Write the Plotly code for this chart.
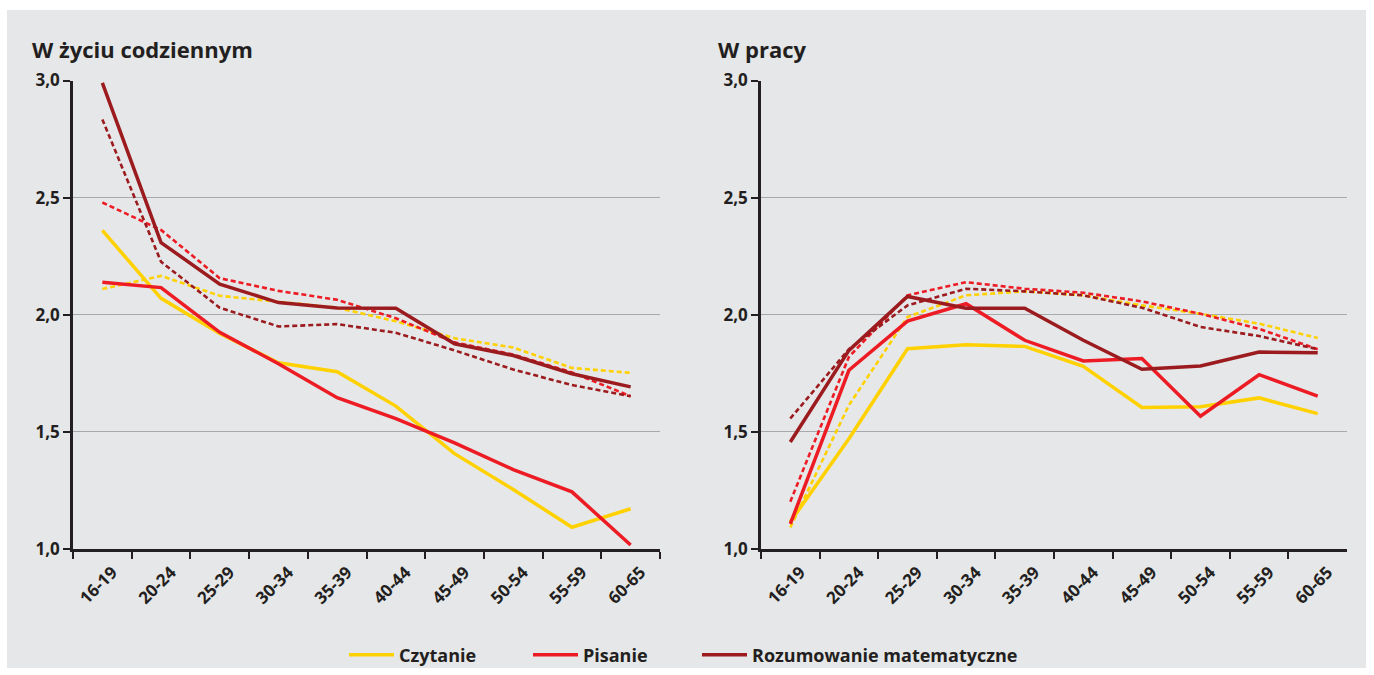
import plotly.graph_objects as go

# Age groups on the category axis
age_groups = ["16-19", "20-24", "25-29", "30-34", "35-39",
              "40-44", "45-49", "50-54", "55-59", "60-65"]

# "W życiu codziennym" panel — observed values (solid) and fitted values (dashed)
daily_reading = [2.36, 2.07, 1.92, 1.795, 1.757, 1.61, 1.407, 1.254, 1.093, 1.172]
daily_writing = [2.139, 2.116, 1.925, 1.791, 1.646, 1.557, 1.453, 1.339, 1.244, 1.017]
daily_math = [2.99, 2.308, 2.131, 2.052, 2.029, 2.028, 1.876, 1.826, 1.748, 1.692]
daily_reading_fit = [2.11, 2.166, 2.081, 2.057, 2.03, 1.972, 1.90, 1.86, 1.773, 1.752]
daily_writing_fit = [2.479, 2.362, 2.156, 2.102, 2.064, 1.985, 1.882, 1.83, 1.754, 1.652]
daily_math_fit = [2.834, 2.226, 2.03, 1.95, 1.96, 1.923, 1.848, 1.766, 1.70, 1.652]

# "W pracy" panel
work_reading = [1.116, 1.471, 1.855, 1.872, 1.865, 1.78, 1.604, 1.607, 1.645, 1.578]
work_writing = [1.107, 1.763, 1.973, 2.047, 1.891, 1.803, 1.813, 1.567, 1.744, 1.653]
work_math = [1.457, 1.848, 2.078, 2.028, 2.028, 1.891, 1.767, 1.781, 1.841, 1.838]
work_reading_fit = [1.092, 1.614, 1.99, 2.083, 2.10, 2.083, 2.04, 2.004, 1.962, 1.901]
work_writing_fit = [1.202, 1.82, 2.083, 2.139, 2.111, 2.094, 2.057, 2.004, 1.94, 1.853]
work_math_fit = [1.557, 1.853, 2.04, 2.111, 2.10, 2.083, 2.03, 1.948, 1.909, 1.853]

series_names = ["Czytanie", "Pisanie", "Rozumowanie matematyczne"]
colors = ["#FFD100", "#ED1C24", "#9B1B1F"]

W, H = 1374, 675
BG = "#E6E7E8"
INK = "#231F20"
FONT = "Open Sans"

fig = go.Figure()

panels = [
    ("x", "y", [daily_reading, daily_writing, daily_math],
     [daily_reading_fit, daily_writing_fit, daily_math_fit]),
    ("x2", "y2", [work_reading, work_writing, work_math],
     [work_reading_fit, work_writing_fit, work_math_fit]),
]
legend_ids = ["legend", "legend2", "legend3"]

for p, (xa, ya, solid, fitted) in enumerate(panels):
    # dashed fitted lines first, so the solid lines sit on top
    for name, vals, col in zip(series_names, fitted, colors):
        fig.add_trace(go.Scatter(
            x=age_groups, y=vals, xaxis=xa, yaxis=ya, mode="lines",
            line=dict(color=col, width=2.6, dash="5px,3px"),
            showlegend=False, hoverinfo="skip", name=name))
    for name, vals, col, lg in zip(series_names, solid, colors, legend_ids):
        fig.add_trace(go.Scatter(
            x=age_groups, y=vals, xaxis=xa, yaxis=ya, mode="lines",
            line=dict(color=col, width=3.5),
            showlegend=(p == 0), legend=lg, name=name))

y_bottom = (H - 549) / H
y_top = (H - 80.5) / H

common_x = dict(
    type="category", range=[-0.5, 9.5], tickson="boundaries",
    ticks="outside", ticklen=7, tickwidth=2, tickcolor=INK,
    showline=True, linecolor=INK, linewidth=2.5, showgrid=False,
    tickangle=-45, zeroline=False, automargin=False,
    ticklabelshift=10, ticklabelstandoff=4,
    tickfont=dict(family=FONT, size=17, color=INK, weight="bold"),
)
common_y = dict(
    range=[1, 3], tickvals=[1.0, 1.5, 2.0, 2.5, 3.0], tickformat=".1f",
    ticks="outside", ticklen=7, tickwidth=2, tickcolor=INK,
    showline=True, linecolor=INK, linewidth=2.5, automargin=False,
    showgrid=True, gridcolor="#A7A9AC", gridwidth=1.2, zeroline=False,
    domain=[y_bottom, y_top],
    tickfont=dict(family=FONT, size=17, color=INK, weight="bold"),
)


def legend_at(px):
    return dict(
        orientation="h", x=px / W, xanchor="left",
        y=(H - 655) / H, yanchor="middle", itemwidth=45,
        bgcolor="rgba(0,0,0,0)", borderwidth=0,
        font=dict(family=FONT, size=18, color=INK, weight="bold"),
    )


fig.update_layout(
    width=W, height=H,
    margin=dict(l=0, r=0, t=0, b=0, autoexpand=False),
    paper_bgcolor="white", plot_bgcolor=BG,
    separators=", ",
    xaxis=dict(common_x, domain=[73 / W, 660 / W], anchor="y"),
    yaxis=dict(common_y, anchor="x"),
    xaxis2=dict(common_x, domain=[761 / W, 1347 / W], anchor="y2"),
    yaxis2=dict(common_y, anchor="x2"),
    showlegend=True,
    legend=legend_at(344),
    legend2=legend_at(528),
    legend3=legend_at(697),
    shapes=[dict(
        type="rect", xref="paper", yref="paper", layer="below",
        x0=7 / W, x1=1366 / W, y0=(H - 668) / H, y1=(H - 10) / H,
        fillcolor=BG, line=dict(width=0),
    )],
    annotations=[
        dict(text="W życiu codziennym", xref="paper", yref="paper",
             x=30 / W, y=(H - 49) / H, xanchor="left", yanchor="middle",
             showarrow=False,
             font=dict(family=FONT, size=22, color=INK, weight="bold")),
        dict(text="W pracy", xref="paper", yref="paper",
             x=716 / W, y=(H - 49) / H, xanchor="left", yanchor="middle",
             showarrow=False,
             font=dict(family=FONT, size=22, color=INK, weight="bold")),
    ],
)

fig.write_html("out.html")
